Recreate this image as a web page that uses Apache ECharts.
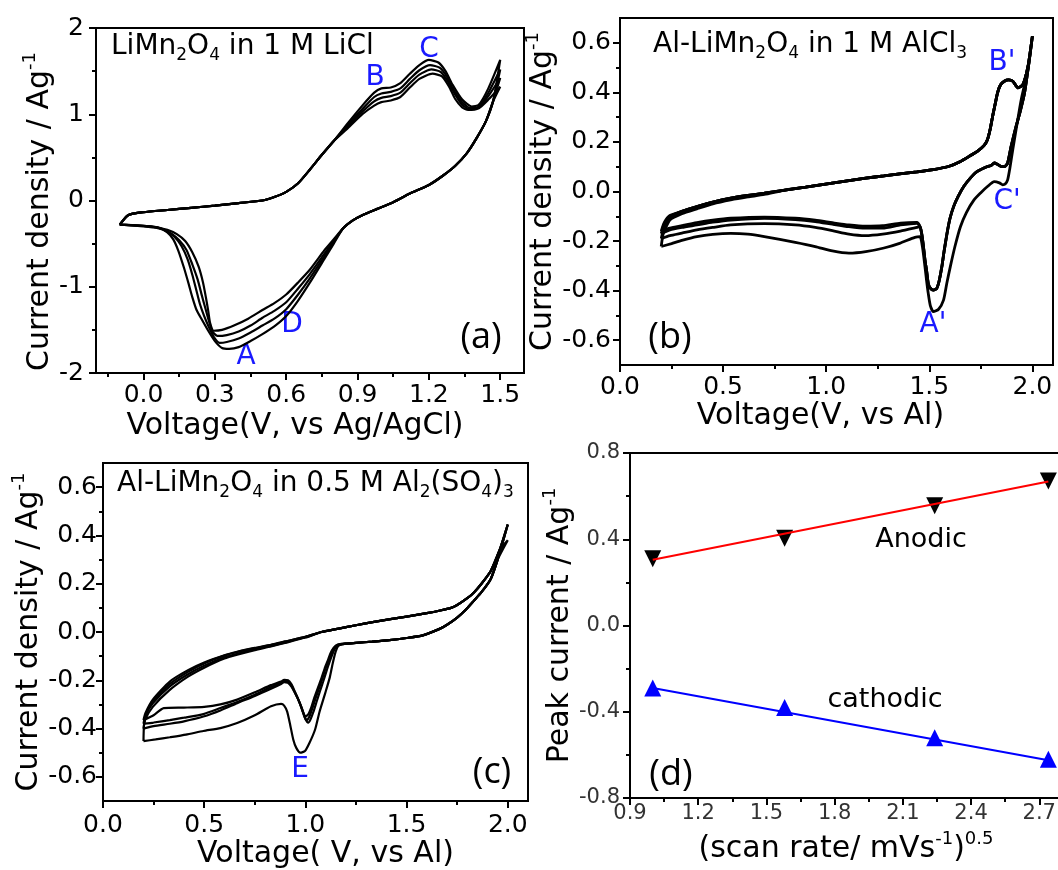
<!DOCTYPE html>
<html>
<head>
<meta charset="utf-8">
<script src="https://cdn.jsdelivr.net/npm/echarts@6.0.0/dist/echarts.min.js"></script>
<style>
html, body { margin: 0; padding: 0; background: #fff; }
#main { width: 1058px; height: 870px; }
</style>
</head>
<body>
<div id="main"></div>
<script>
// ---- (a) LiMn2O4 in 1 M LiCl : [V, A/g]
var aAnodicLow = [[-0.1,-0.28],[-0.065,-0.17],[0.0,-0.135],[0.1,-0.11],[0.2,-0.085],[0.3,-0.06],[0.4,-0.03],[0.5,0.0],[0.55,0.04],[0.6,0.1],[0.65,0.2],[0.7,0.36],[0.75,0.53],[0.8,0.69]];
var aAnodicHigh1 = [[0.86,0.90],[0.92,1.10],[0.97,1.25],[1.0,1.30],[1.04,1.31],[1.08,1.36],[1.12,1.47],[1.16,1.57],[1.2,1.63],[1.24,1.60],[1.27,1.50],[1.3,1.34],[1.34,1.17],[1.38,1.09],[1.41,1.11],[1.45,1.30],[1.5,1.63]];
var aAnodicHigh2 = [[0.86,0.88],[0.92,1.06],[0.97,1.20],[1.0,1.24],[1.04,1.26],[1.08,1.30],[1.12,1.41],[1.16,1.51],[1.205,1.57],[1.245,1.54],[1.275,1.44],[1.3,1.30],[1.34,1.14],[1.375,1.07],[1.41,1.09],[1.45,1.25],[1.5,1.52]];
var aAnodicHigh3 = [[0.86,0.86],[0.92,1.03],[0.97,1.15],[1.0,1.19],[1.04,1.21],[1.08,1.25],[1.12,1.36],[1.16,1.46],[1.21,1.52],[1.25,1.49],[1.28,1.38],[1.31,1.23],[1.34,1.11],[1.37,1.06],[1.41,1.08],[1.45,1.21],[1.5,1.42]];
var aAnodicHigh4 = [[0.86,0.84],[0.92,1.0],[0.97,1.10],[1.0,1.14],[1.04,1.16],[1.08,1.20],[1.12,1.31],[1.16,1.41],[1.215,1.47],[1.255,1.44],[1.285,1.32],[1.31,1.18],[1.34,1.08],[1.365,1.05],[1.41,1.07],[1.45,1.17],[1.5,1.32]];
var aCathodicHigh = [[1.47,1.15],[1.44,0.92],[1.4,0.72],[1.36,0.55],[1.31,0.40],[1.26,0.29],[1.2,0.18],[1.12,0.08],[1.05,-0.02],[0.98,-0.10],[0.92,-0.17],[0.88,-0.23],[0.84,-0.32]];
var aCathodicLow1 = [[0.8,-0.50],[0.76,-0.68],[0.7,-0.95],[0.65,-1.16],[0.6,-1.34],[0.55,-1.46],[0.5,-1.55],[0.45,-1.63],[0.4,-1.70],[0.36,-1.72],[0.33,-1.71],[0.3,-1.63],[0.272,-1.51],[0.245,-1.38],[0.223,-1.27],[0.205,-1.12],[0.19,-0.97],[0.17,-0.78],[0.146,-0.58],[0.125,-0.45],[0.1,-0.37],[0.07,-0.32],[0.03,-0.30],[-0.03,-0.29],[-0.1,-0.28]];
var aCathodicLow2 = [[0.8,-0.48],[0.76,-0.65],[0.7,-0.90],[0.65,-1.09],[0.6,-1.26],[0.55,-1.37],[0.5,-1.45],[0.45,-1.53],[0.4,-1.60],[0.35,-1.64],[0.32,-1.65],[0.295,-1.58],[0.275,-1.47],[0.255,-1.34],[0.237,-1.2],[0.222,-1.04],[0.205,-0.86],[0.185,-0.68],[0.16,-0.53],[0.13,-0.42],[0.1,-0.36],[0.06,-0.32],[0.0,-0.30],[-0.1,-0.28]];
var aCathodicLow3 = [[0.8,-0.47],[0.76,-0.62],[0.7,-0.85],[0.65,-1.02],[0.6,-1.18],[0.55,-1.28],[0.5,-1.36],[0.45,-1.45],[0.4,-1.52],[0.35,-1.56],[0.31,-1.57],[0.29,-1.52],[0.275,-1.40],[0.262,-1.27],[0.245,-1.1],[0.228,-0.92],[0.205,-0.74],[0.18,-0.57],[0.15,-0.46],[0.12,-0.39],[0.08,-0.33],[0.03,-0.30],[-0.1,-0.28]];
var aCathodicLow4 = [[0.8,-0.45],[0.76,-0.58],[0.7,-0.80],[0.65,-0.95],[0.6,-1.09],[0.55,-1.19],[0.5,-1.27],[0.44,-1.37],[0.38,-1.45],[0.33,-1.50],[0.295,-1.51],[0.28,-1.42],[0.272,-1.28],[0.262,-1.12],[0.25,-0.95],[0.232,-0.77],[0.205,-0.60],[0.175,-0.47],[0.14,-0.39],[0.1,-0.34],[0.05,-0.31],[-0.02,-0.29],[-0.1,-0.28]];

// ---- (b) Al-LiMn2O4 in 1 M AlCl3
var bAnodicStart1 = [[0.2,-0.222],[0.21,-0.17],[0.242,-0.115],[0.3,-0.09],[0.373,-0.07],[0.45,-0.05],[0.537,-0.034],[0.62,-0.022],[0.7,-0.012]];
var bAnodicStart2 = [[0.2,-0.19],[0.215,-0.14],[0.242,-0.105]];
var bAnodicStart3 = [[0.2,-0.17],[0.215,-0.13],[0.242,-0.1]];
var bAnodicStart4 = [[0.2,-0.16],[0.215,-0.125],[0.242,-0.097]];
var bAnodicMid = [[0.3,-0.08],[0.373,-0.061],[0.45,-0.043],[0.537,-0.027],[0.62,-0.016],[0.7,-0.007]];
var bAnodicHigh = [[0.8,0.006],[0.9,0.018],[1.029,0.034],[1.11,0.044],[1.192,0.054],[1.28,0.063],[1.356,0.071],[1.44,0.079],[1.52,0.088],[1.6,0.103],[1.651,0.121],[1.7,0.145],[1.733,0.162],[1.765,0.185],[1.782,0.209],[1.795,0.25],[1.807,0.303],[1.82,0.355],[1.831,0.398],[1.845,0.43],[1.864,0.445],[1.885,0.45],[1.905,0.445],[1.93,0.418],[1.954,0.431],[1.979,0.506],[2.0,0.627]];
var bCathodicHigh = [[1.98,0.50],[1.962,0.398],[1.94,0.32],[1.921,0.263],[1.897,0.182],[1.88,0.115],[1.865,0.10],[1.848,0.101],[1.83,0.11],[1.815,0.115],[1.8,0.105],[1.782,0.101],[1.733,0.081],[1.7,0.055],[1.667,0.02],[1.64,-0.02],[1.618,-0.061],[1.6,-0.11],[1.586,-0.169],[1.572,-0.24],[1.561,-0.303],[1.548,-0.36],[1.536,-0.391],[1.52,-0.398],[1.505,-0.39],[1.495,-0.371],[1.487,-0.32],[1.479,-0.276],[1.47,-0.21],[1.463,-0.169],[1.455,-0.142]];
var bCathodicLow2 = [[1.44,-0.145],[1.36,-0.16],[1.274,-0.172],[1.19,-0.178],[1.11,-0.172],[1.03,-0.158],[0.947,-0.145],[0.85,-0.135],[0.7,-0.13],[0.537,-0.135],[0.45,-0.145],[0.373,-0.155],[0.3,-0.168],[0.242,-0.178],[0.2,-0.19]];
var bCathodicLow3 = [[1.44,-0.128],[1.36,-0.135],[1.274,-0.148],[1.19,-0.148],[1.11,-0.142],[1.03,-0.132],[0.947,-0.121],[0.85,-0.113],[0.7,-0.108],[0.537,-0.115],[0.45,-0.124],[0.373,-0.135],[0.3,-0.145],[0.242,-0.155],[0.2,-0.17]];
var bCathodicLow4 = [[1.44,-0.125],[1.36,-0.128],[1.274,-0.138],[1.19,-0.14],[1.11,-0.135],[1.03,-0.126],[0.947,-0.116],[0.85,-0.108],[0.7,-0.103],[0.537,-0.108],[0.45,-0.116],[0.373,-0.126],[0.3,-0.138],[0.242,-0.148],[0.2,-0.16]];
var bCathodic1 = [[1.98,0.50],[1.946,0.371],[1.925,0.27],[1.905,0.169],[1.89,0.09],[1.88,0.047],[1.868,0.03],[1.856,0.027],[1.84,0.035],[1.815,0.04],[1.782,0.02],[1.75,-0.005],[1.717,-0.034],[1.68,-0.085],[1.651,-0.142],[1.625,-0.22],[1.602,-0.303],[1.585,-0.37],[1.569,-0.438],[1.545,-0.475],[1.52,-0.485],[1.505,-0.46],[1.495,-0.411],[1.487,-0.36],[1.479,-0.303],[1.468,-0.23],[1.455,-0.182],[1.43,-0.185],[1.356,-0.209],[1.28,-0.228],[1.192,-0.243],[1.11,-0.249],[1.03,-0.24],[0.947,-0.222],[0.85,-0.205],[0.7,-0.182],[0.62,-0.172],[0.537,-0.169],[0.45,-0.173],[0.373,-0.182],[0.3,-0.197],[0.25,-0.21],[0.2,-0.222]];

// ---- (c) Al-LiMn2O4 in 0.5 M Al2(SO4)3
var cUpperLow1 = [[0.2,-0.452],[0.203,-0.38],[0.215,-0.335],[0.246,-0.285],[0.33,-0.215],[0.42,-0.165],[0.5,-0.13],[0.6,-0.098],[0.663,-0.083],[0.75,-0.067],[0.83,-0.054],[0.9,-0.04],[1.0,-0.02]];
var cUpperLow2 = [[0.2,-0.365],[0.21,-0.335],[0.246,-0.28],[0.33,-0.205],[0.42,-0.158],[0.5,-0.126],[0.6,-0.096],[0.663,-0.082],[0.75,-0.066],[0.83,-0.053],[0.9,-0.039],[1.0,-0.02]];
var cUpperLow3 = [[0.2,-0.38],[0.21,-0.345],[0.246,-0.295],[0.33,-0.225],[0.42,-0.175],[0.5,-0.14],[0.6,-0.105],[0.663,-0.09],[0.75,-0.072],[0.83,-0.058],[0.9,-0.043],[1.0,-0.022]];
var cUpperLow4 = [[0.2,-0.40],[0.21,-0.36],[0.246,-0.31],[0.33,-0.24],[0.42,-0.185],[0.5,-0.148],[0.6,-0.11],[0.663,-0.094],[0.75,-0.075],[0.83,-0.06],[0.9,-0.045],[1.0,-0.023]];
var cUpperHigh = [[1.08,0.0],[1.165,0.014],[1.25,0.028],[1.332,0.041],[1.42,0.053],[1.5,0.064],[1.6,0.078],[1.666,0.089],[1.72,0.10],[1.75,0.112],[1.8,0.14],[1.833,0.164],[1.87,0.2],[1.916,0.253],[1.96,0.34]];
var cTurnHigh = [[2.0,0.445]];
var cTurnLow = [[2.0,0.38]];
var cLowerHigh = [[1.95,0.30],[1.916,0.22],[1.87,0.165],[1.833,0.13],[1.79,0.09],[1.75,0.06],[1.7,0.03],[1.666,0.014],[1.58,-0.014],[1.5,-0.025],[1.415,-0.034],[1.33,-0.04],[1.25,-0.045],[1.2,-0.048]];
var cLowerLow1 = [[1.165,-0.055],[1.15,-0.08],[1.135,-0.13],[1.12,-0.19],[1.098,-0.253],[1.07,-0.33],[1.048,-0.404],[1.02,-0.46],[0.998,-0.493],[0.975,-0.50],[0.955,-0.48],[0.94,-0.445],[0.925,-0.385],[0.91,-0.33],[0.895,-0.305],[0.88,-0.298],[0.83,-0.308],[0.75,-0.345],[0.663,-0.377],[0.58,-0.398],[0.496,-0.41],[0.41,-0.425],[0.33,-0.436],[0.26,-0.445],[0.2,-0.452]];
var cLowerLow2 = [[1.16,-0.052],[1.14,-0.065],[1.123,-0.09],[1.11,-0.12],[1.098,-0.144],[1.08,-0.19],[1.064,-0.226],[1.045,-0.27],[1.03,-0.31],[1.015,-0.34],[1.0,-0.35],[0.99,-0.335],[0.98,-0.31],[0.963,-0.275],[0.947,-0.245],[0.93,-0.215],[0.914,-0.20],[0.895,-0.198],[0.88,-0.205],[0.83,-0.22],[0.75,-0.25],[0.663,-0.28],[0.58,-0.30],[0.5,-0.31],[0.4,-0.313],[0.3,-0.315],[0.25,-0.345],[0.2,-0.365]];
var cLowerLow3 = [[1.16,-0.053],[1.14,-0.068],[1.125,-0.095],[1.112,-0.125],[1.1,-0.15],[1.083,-0.195],[1.068,-0.232],[1.05,-0.275],[1.035,-0.315],[1.02,-0.35],[1.006,-0.365],[0.995,-0.35],[0.983,-0.32],[0.965,-0.28],[0.948,-0.25],[0.93,-0.22],[0.914,-0.205],[0.895,-0.203],[0.88,-0.21],[0.83,-0.228],[0.75,-0.26],[0.663,-0.29],[0.58,-0.315],[0.496,-0.34],[0.4,-0.355],[0.33,-0.365],[0.25,-0.375],[0.2,-0.38]];
var cLowerLow4 = [[1.165,-0.055],[1.145,-0.07],[1.13,-0.1],[1.117,-0.13],[1.105,-0.16],[1.088,-0.205],[1.072,-0.245],[1.055,-0.29],[1.04,-0.33],[1.025,-0.362],[1.014,-0.375],[1.0,-0.36],[0.988,-0.33],[0.97,-0.29],[0.952,-0.258],[0.933,-0.228],[0.914,-0.21],[0.895,-0.208],[0.88,-0.215],[0.83,-0.235],[0.75,-0.265],[0.663,-0.295],[0.58,-0.325],[0.496,-0.35],[0.4,-0.37],[0.33,-0.38],[0.25,-0.39],[0.2,-0.40]];

// ---- (d) peak current vs sqrt(scan rate)
var scanRoot = [1.0, 1.58, 2.24, 2.74];
var anodicPeak = [0.31, 0.405, 0.555, 0.67];
var cathodicPeak = [-0.29, -0.38, -0.52, -0.62];
var fitX = [1.0, 2.74];
var anodicFit = [0.305, 0.668];
var cathodicFit = [-0.29, -0.625];

// ---- tick values
var aXMajor = [0, 0.3, 0.6, 0.9, 1.2, 1.5];
var aXMinor = [-0.15, 0.15, 0.45, 0.75, 1.05, 1.35];
var aYMajor = [-2, -1, 0, 1, 2];
var aYMinor = [-1.5, -0.5, 0.5, 1.5];
var vXMajor = [0, 0.5, 1.0, 1.5, 2.0];
var vXMinor = [0.25, 0.75, 1.25, 1.75];
var iYMajor = [-0.6, -0.4, -0.2, 0, 0.2, 0.4, 0.6];
var iYMinor = [-0.5, -0.3, -0.1, 0.1, 0.3, 0.5];
var dXMajor = [0.9, 1.2, 1.5, 1.8, 2.1, 2.4, 2.7];
var dXMinor = [1.05, 1.35, 1.65, 1.95, 2.25, 2.55];
var dYMajor = [-0.8, -0.4, 0, 0.4, 0.8];
var dYMinor = [-0.6, -0.2, 0.2, 0.6];

var FONT = 'DejaVu Sans';
var BLUE = '#1a1aff';

var xAxes = [];
var yAxes = [];

function addAxis(list, o) {
	var main = {
		type: 'value', gridIndex: o.grid, position: o.pos, min: o.min, max: o.max,
		axisLine: { show: true, onZero: false, lineStyle: { color: '#000', width: 2 } },
		axisTick: { show: true, customValues: o.major, length: 7, lineStyle: { color: '#000', width: 2 } },
		axisLabel: { customValues: o.major, formatter: o.fmt, fontFamily: FONT, fontSize: o.fs || 25, color: o.color || '#000', margin: o.margin },
		splitLine: { show: false },
		name: o.name, nameLocation: 'middle', nameGap: o.gap, nameRotate: o.rot || 0,
		nameTextStyle: {
			fontFamily: FONT, fontSize: 30, color: '#000', padding: o.pad || 0,
			rich: {
				n: { fontFamily: FONT, fontSize: 30, lineHeight: 38, color: '#000' },
				s: { fontFamily: FONT, fontSize: 18, lineHeight: 18, verticalAlign: 'top', color: '#000' }
			}
		}
	};
	var minor = {
		type: 'value', gridIndex: o.grid, position: o.pos, min: o.min, max: o.max,
		axisLine: { show: false, onZero: false },
		axisTick: { show: true, customValues: o.minor, length: 4, lineStyle: { color: '#000', width: 2 } },
		axisLabel: { show: false, customValues: o.minor },
		splitLine: { show: false }
	};
	list.push(main, minor);
	return list.length - 2;
}

var f1 = function (v) { return v.toFixed(1); };
var f0 = function (v) { return v.toFixed(0); };

var ax = addAxis(xAxes, { grid: 0, pos: 'bottom', min: -0.2, max: 1.6, major: aXMajor, minor: aXMinor, fmt: f1, margin: 10, gap: 38, pad: [0, 30, 0, 0], name: 'Voltage(V, vs Ag/AgCl)' });
var ay = addAxis(yAxes, { grid: 0, pos: 'left', min: -2, max: 2, major: aYMajor, minor: aYMinor, fmt: f0, margin: 12, gap: 32, rot: 90, pad: [0, 22, 0, 0], name: '{n|Current density / Ag}{s|-1}' });
var bx = addAxis(xAxes, { grid: 1, pos: 'bottom', min: 0, max: 2.1, major: vXMajor, minor: vXMinor, fmt: f1, margin: 10, gap: 26, pad: [0, 32, 0, 0], name: 'Voltage(V, vs Al)' });
var by = addAxis(yAxes, { grid: 1, pos: 'left', min: -0.7, max: 0.7, major: iYMajor, minor: iYMinor, fmt: f1, margin: 9, gap: 58, rot: 90, name: '{n|Current density / Ag}{s|-1}' });
var cx = addAxis(xAxes, { grid: 2, pos: 'bottom', min: 0, max: 2.1, major: vXMajor, minor: vXMinor, fmt: f1, margin: 12, gap: 32, pad: [0, 0, 0, 20], name: 'Voltage( V, vs Al)' });
var cy = addAxis(yAxes, { grid: 2, pos: 'left', min: -0.7, max: 0.7, major: iYMajor, minor: iYMinor, fmt: f1, margin: 6, gap: 50, rot: 90, name: '{n|Current density / Ag}{s|-1}' });
var dx = addAxis(xAxes, { grid: 3, pos: 'bottom', min: 0.9, max: 2.8, major: dXMajor, minor: dXMinor, fmt: f1, fs: 21, color: '#333', margin: 5, gap: 32, name: '{n|(scan rate/ mVs}{s|-1}{n|)}{s|0.5}' });
var dy = addAxis(yAxes, { grid: 3, pos: 'left', min: -0.8, max: 0.8, major: dYMajor, minor: dYMinor, fmt: f1, fs: 21, color: '#333', margin: 10, gap: 44, rot: 90, name: '{n|Peak current / Ag}{s|-1}' });

function cvLine(xi, yi, data, w) {
	return {
		type: 'line', xAxisIndex: xi, yAxisIndex: yi, data: data,
		symbol: 'none', smooth: 0.2, silent: true,
		lineStyle: { color: '#000', width: w || 2.2 }
	};
}

function pairs(xs, ys) {
	return xs.map(function (x, k) { return [x, ys[k]]; });
}

var series = [
	cvLine(ax, ay, aAnodicLow.concat(aAnodicHigh1, aCathodicHigh, aCathodicLow1)),
	cvLine(ax, ay, aAnodicLow.concat(aAnodicHigh2, aCathodicHigh, aCathodicLow2)),
	cvLine(ax, ay, aAnodicLow.concat(aAnodicHigh3, aCathodicHigh, aCathodicLow3)),
	cvLine(ax, ay, aAnodicLow.concat(aAnodicHigh4, aCathodicHigh, aCathodicLow4)),

	cvLine(bx, by, bAnodicStart1.concat(bAnodicHigh, bCathodic1), 2.8),
	cvLine(bx, by, bAnodicStart2.concat(bAnodicMid, bAnodicHigh, bCathodicHigh, bCathodicLow2), 2.8),
	cvLine(bx, by, bAnodicStart3.concat(bAnodicMid, bAnodicHigh, bCathodicHigh, bCathodicLow3), 2.8),
	cvLine(bx, by, bAnodicStart4.concat(bAnodicMid, bAnodicHigh, bCathodicHigh, bCathodicLow4), 2.8),

	cvLine(cx, cy, cUpperLow1.concat(cUpperHigh, cTurnHigh, cLowerHigh, cLowerLow1)),
	cvLine(cx, cy, cUpperLow2.concat(cUpperHigh, cTurnHigh, cLowerHigh, cLowerLow2)),
	cvLine(cx, cy, cUpperLow3.concat(cUpperHigh, cTurnHigh, cLowerHigh, cLowerLow3)),
	cvLine(cx, cy, cUpperLow4.concat(cUpperHigh, cTurnLow, cLowerHigh, cLowerLow4)),

	{ type: 'line', xAxisIndex: dx, yAxisIndex: dy, data: pairs(fitX, anodicFit), symbol: 'none', lineStyle: { color: '#ff0000', width: 2.2 } },
	{ type: 'line', xAxisIndex: dx, yAxisIndex: dy, data: pairs(fitX, cathodicFit), symbol: 'none', lineStyle: { color: '#0000ff', width: 2.2 } },
	{ type: 'scatter', xAxisIndex: dx, yAxisIndex: dy, data: pairs(scanRoot, anodicPeak), symbol: 'triangle', symbolRotate: 180, symbolSize: 17, itemStyle: { color: '#000', opacity: 1 } },
	{ type: 'scatter', xAxisIndex: dx, yAxisIndex: dy, data: pairs(scanRoot, cathodicPeak), symbol: 'triangle', symbolSize: 17, itemStyle: { color: '#0000ff', opacity: 1 } }
];

var subRich = {
	t: { fontFamily: FONT, fontSize: 28, lineHeight: 34, fill: '#000' },
	sb: { fontFamily: FONT, fontSize: 17, lineHeight: 17, verticalAlign: 'bottom', fill: '#000' }
};

function note(x, y, text, opt) {
	opt = opt || {};
	return {
		type: 'text', x: x, y: y, silent: true,
		style: {
			text: text, rich: opt.rich, fontFamily: opt.family || FONT, fontSize: opt.size || 28,
			fill: opt.color || '#000', align: opt.align || 'center', verticalAlign: 'middle'
		}
	};
}

var graphics = [
	note(111, 47, '{t|LiMn}{sb|2}{t|O}{sb|4}{t| in 1 M LiCl}', { rich: subRich, align: 'left' }),
	note(653, 45, '{t|Al-LiMn}{sb|2}{t|O}{sb|4}{t| in 1 M AlCl}{sb|3}', { rich: subRich, align: 'left' }),
	note(117, 484, '{t|Al-LiMn}{sb|2}{t|O}{sb|4}{t| in 0.5 M Al}{sb|2}{t|(SO}{sb|4}{t|)}{sb|3}', { rich: subRich, align: 'left' }),
	note(246, 357, 'A', { color: BLUE, size: 28 }),
	note(375, 78, 'B', { color: BLUE, size: 28 }),
	note(429, 50, 'C', { color: BLUE, size: 28 }),
	note(292, 325, 'D', { color: BLUE, size: 28 }),
	note(1002, 63, "B'", { color: BLUE, size: 28 }),
	note(1007, 202, "C'", { color: BLUE, size: 28 }),
	note(933, 325, "A'", { color: BLUE, size: 28 }),
	note(300, 770, 'E', { color: BLUE, size: 28 }),
	note(481, 338, '(a)', { family: 'Open Sans', size: 36 }),
	note(670, 338, '(b)', { family: 'Open Sans', size: 36 }),
	note(492, 773, '(c)', { family: 'Open Sans', size: 36 }),
	note(671, 775, '(d)', { family: 'Open Sans', size: 36 }),
	note(921, 540, 'Anodic', { size: 27 }),
	note(885, 700, 'cathodic', { size: 27 })
];

function box(left, top, width, height) {
	return { left: left, top: top, width: width, height: height, show: true, borderColor: '#000', borderWidth: 2, backgroundColor: 'transparent', containLabel: false, outerBoundsMode: 'none' };
}

var chartDom = document.getElementById('main');
var myChart = echarts.init(chartDom, null, { renderer: 'canvas' });
var option;
option = {
	animation: false,
	backgroundColor: '#fff',
	grid: [
		box(96, 28, 428, 345),
		box(620, 18, 433, 347),
		box(103, 463, 425, 338),
		box(630, 453, 432, 345)
	],
	xAxis: xAxes,
	yAxis: yAxes,
	series: series,
	graphic: graphics
};
option && myChart.setOption(option);
</script>
</body>
</html>
